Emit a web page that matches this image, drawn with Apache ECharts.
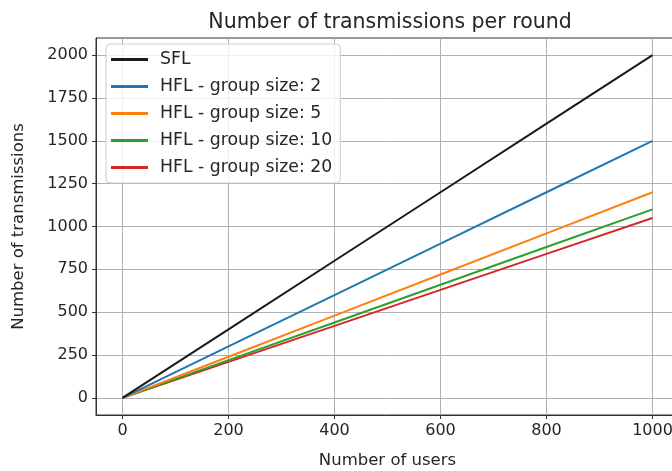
<!DOCTYPE html>
<html><head><meta charset="utf-8">
<script src="https://cdn.jsdelivr.net/npm/echarts@6/dist/echarts.min.js"></script>
<style>html,body{margin:0;padding:0;background:#fff}#c{width:672px;height:471px}</style>
</head><body><div id="c"></div>
<script>
var users = [0, 200, 400, 600, 800, 1000];
var sfl = [0, 400, 800, 1200, 1600, 2000];
var hfl2 = [0, 300, 600, 900, 1200, 1500];
var hfl5 = [0, 240, 480, 720, 960, 1200];
var hfl10 = [0, 220, 440, 660, 880, 1100];
var hfl20 = [0, 210, 420, 630, 840, 1050];
var seriesNames = ['SFL', 'HFL - group size: 2', 'HFL - group size: 5', 'HFL - group size: 10', 'HFL - group size: 20'];
var seriesColors = ['#1a1a1a', '#1f77b4', '#ff7f0e', '#2ca02c', '#d62728'];
var xTicks = [0, 200, 400, 600, 800, 1000];
var yTicks = [0, 250, 500, 750, 1000, 1250, 1500, 1750, 2000];

var FONT = 'DejaVu Sans';
var allData = [sfl, hfl2, hfl5, hfl10, hfl20];
var series = allData.map(function (vals, i) {
  return {
    name: seriesNames[i], type: 'line', showSymbol: false, symbol: 'none',
    data: users.map(function (u, j) { return [u, vals[j]]; }),
    lineStyle: { width: 2, color: seriesColors[i] }, itemStyle: { color: seriesColors[i] },
    z: 10 - i, animation: false
  };
});
var chart = echarts.init(document.getElementById('c'), null, { renderer: 'canvas' });
chart.setOption({
  animation: false,
  title: { text: 'Number of transmissions per round', left: 385, top: 7, textAlign: 'center',
    textStyle: { fontFamily: FONT, fontSize: 20.5, fontWeight: 'normal', color: '#262626' } },
  grid: { left: 96, top: 38, width: 583, height: 377, show: true, borderColor: '#333', borderWidth: 1,
    backgroundColor: 'transparent', outerBoundsMode: 'none', containLabel: false },
  legend: {
    left: 106, top: 44, orient: 'vertical', itemWidth: 37, itemHeight: 3, itemGap: 10,
    icon: 'rect', padding: [7, 8, 7, 5],
    backgroundColor: 'rgba(255,255,255,0.8)', borderColor: '#cccccc', borderWidth: 1, borderRadius: 4,
    textStyle: { fontFamily: FONT, fontSize: 17.3, color: '#262626', padding: [0, 0, 0, 7] },
    data: seriesNames
  },
  xAxis: {
    type: 'value', min: -50, max: 1050,
    name: 'Number of users', nameLocation: 'middle', nameGap: 37,
    nameTextStyle: { fontFamily: FONT, fontSize: 16.5, color: '#262626' },
    axisLine: { show: true, onZero: false, lineStyle: { color: '#333', width: 1 } },
    axisTick: { show: true, length: 4, customValues: xTicks, lineStyle: { color: '#333' } },
    axisLabel: { customValues: xTicks, fontFamily: FONT, fontSize: 16, color: '#262626', margin: 8,
      formatter: function (v) { return String(v); } },
    splitLine: { show: true, lineStyle: { color: '#b0b0b0', width: 1 } }
  },
  yAxis: {
    type: 'value', min: -100, max: 2100,
    name: 'Number of transmissions', nameLocation: 'middle', nameGap: 69,
    nameTextStyle: { fontFamily: FONT, fontSize: 16.5, color: '#262626' },
    axisLine: { show: true, onZero: false, lineStyle: { color: '#333', width: 1 } },
    axisTick: { show: true, length: 4, customValues: yTicks, lineStyle: { color: '#333' } },
    axisLabel: { customValues: yTicks, fontFamily: FONT, fontSize: 16, color: '#262626', margin: 8,
      formatter: function (v) { return String(v); } },
    splitLine: { show: true, lineStyle: { color: '#b0b0b0', width: 1 } }
  },
  series: series
});
</script></body></html>
